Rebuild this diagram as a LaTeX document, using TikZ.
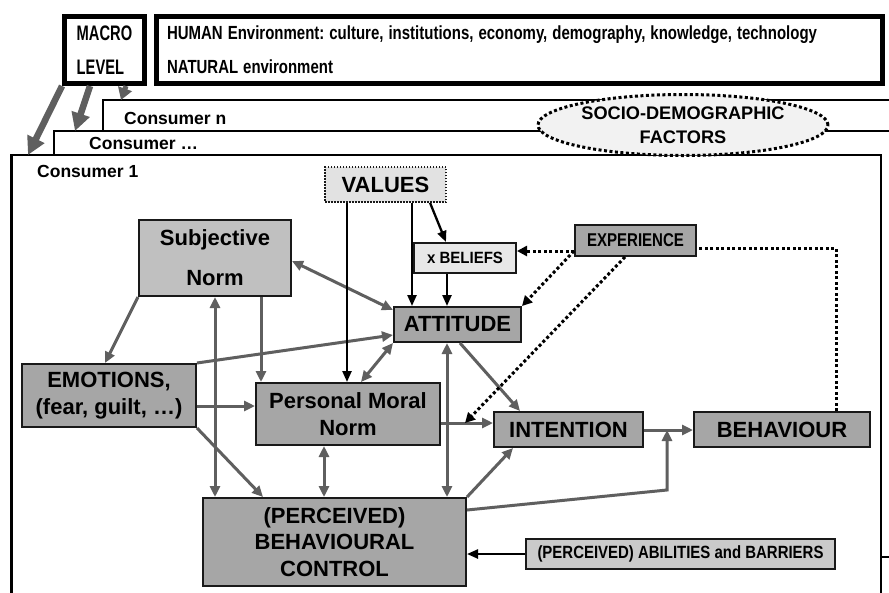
\documentclass[tikz,border=0pt]{standalone}
\usepackage{graphicx}
\usepackage{fontspec}
\setmainfont{Liberation Sans}
\usetikzlibrary{arrows.meta,shapes.geometric,calc}
\frenchspacing
\definecolor{agray}{RGB}{95,95,95}
\definecolor{boxdark}{RGB}{166,166,166}
\definecolor{boxsn}{RGB}{192,192,192}
\definecolor{boxbar}{RGB}{202,202,202}
\definecolor{boxlight}{RGB}{232,232,232}
\definecolor{valfill}{RGB}{226,226,226}
\definecolor{ellfill}{RGB}{242,242,242}
\newcommand{\fitw}[2]{\resizebox{#1}{\height}{#2}}
\begin{document}
\begin{tikzpicture}[x=1pt,y=-1pt,
  box/.style={draw=black!90, line width=2pt, inner sep=0pt, align=center},
  bigfont/.style={font=\bfseries\fontsize{22}{26.5}\selectfont},
  ga/.style={draw=agray, line width=3pt, -{Triangle[length=11pt,width=10pt]}},
  gab/.style={draw=agray, line width=3pt, {Triangle[length=11pt,width=10pt]}-{Triangle[length=11pt,width=10pt]}},
  ba/.style={draw=black, line width=2.3pt, -{Triangle[length=11pt,width=9pt]}},
  dotl/.style={draw=black, line width=3pt, dash pattern=on 3pt off 2.5pt},
  da/.style={dotl, -{Triangle[length=10pt,width=10pt]}},
  bigarrow/.style={draw=agray, line width=6.5pt, -{Triangle[length=18pt,width=18pt]}},
  frame/.style={draw=black, line width=2.5pt, fill=white},
  ctext/.style={font=\bfseries\fontsize{17.5}{20}\selectfont, anchor=west, inner sep=0pt},
]
\useasboundingbox (0,0) rectangle (889,592);
\fill[white] (0,0) rectangle (889,592);
\clip (0,0) rectangle (889,592);

% consumer frames
\draw[frame] (103,100) rectangle (900,557);
\draw[frame] (54,131) rectangle (900,557);
\draw[frame] (11.5,155) rectangle (881,600);

% macro arrows
\coordinate (t1) at (28,155);
\coordinate (t2) at (75,131);
\coordinate (t3) at (121,100);

% macro and human boxes
\node[draw=black, line width=5pt, minimum width=80pt, minimum height=67pt, inner sep=0pt,
  font=\bfseries\fontsize{21}{34.5}\selectfont, align=left] (macro) at (104.5,50)
  {\scalebox{0.7}[1]{MACRO}\\\scalebox{0.7}[1]{LEVEL}};
\node[draw=black, line width=5pt, minimum width=726pt, minimum height=67pt, inner xsep=10.5pt, inner ysep=0pt,
  text width=705pt, align=left, font=\bfseries\fontsize{19}{34}\selectfont] (human) at (519.5,50)
  {\fitw{650pt}{HUMAN Environment: culture, institutions, economy, demography, knowledge, technology}\\\fitw{166pt}{NATURAL environment}};

\draw[bigarrow] (macro.south west) -- (t1);
\draw[bigarrow] (90,0 |- macro.south) -- (t2);
\draw[draw=agray, line width=5pt, -{Triangle[length=12pt,width=14pt]}] (126,0 |- macro.south) -- (t3);

% consumer labels
\node[ctext] (cn) at (124,118) {Consumer n};
\node[ctext] (cd) at (89,143) {Consumer …};
\node[ctext] (c1) at (37,171) {Consumer 1};

% socio-demographic
\node[ellipse, draw=black, line width=3pt, dash pattern=on 3pt off 2.5pt, fill=ellfill,
  minimum width=290pt, minimum height=61pt, inner sep=0pt, align=center,
  font=\bfseries\fontsize{18.2}{24}\selectfont] (socio) at (683,125) {SOCIO-DEMOGRAPHIC\\FACTORS};

% boxes
\node[box, bigfont, fill=valfill, line width=1.5pt, dash pattern=on 1.5pt off 1.5pt,
  minimum width=121pt, minimum height=35pt] (values) at (385.5,184.5) {VALUES};
\node[box, fill=boxlight, minimum width=102pt, minimum height=30pt,
  font=\bfseries\fontsize{16.3}{20}\selectfont] (beliefs) at (465,258) {\fitw{76pt}{x BELIEFS}};
\node[box, bigfont, fill=boxdark, minimum width=127pt, minimum height=35pt] (attitude) at (457.5,324.5) {ATTITUDE};
\node[box, fill=boxsn, minimum width=152pt, minimum height=76pt,
  font=\bfseries\fontsize{22}{40}\selectfont] (sn) at (215,258) {Subjective\\Norm};
\node[box, bigfont, fill=boxdark, minimum width=174pt, minimum height=63pt,
  font=\bfseries\fontsize{22}{27}\selectfont] (emotions) at (109,395.5) {EMOTIONS,\\(fear, guilt, …)};
\node[box, bigfont, fill=boxdark, minimum width=184pt, minimum height=62pt] (pmn) at (348,414) {Personal Moral\\Norm};
\node[box, bigfont, fill=boxdark, minimum width=149pt, minimum height=35pt] (intention) at (568.5,429.5) {INTENTION};
\node[box, bigfont, fill=boxdark, minimum width=176pt, minimum height=35pt] (behaviour) at (782,429.5) {BEHAVIOUR};
\node[box, fill=boxdark, minimum width=121pt, minimum height=31pt,
  font=\bfseries\fontsize{18.5}{22}\selectfont] (experience) at (635.5,240.5) {\fitw{97pt}{EXPERIENCE}};
\node[box, fill=boxbar, minimum width=309pt, minimum height=30pt,
  font=\bfseries\fontsize{17.7}{22}\selectfont] (barriers) at (680.5,554) {\fitw{286pt}{(PERCEIVED) ABILITIES and BARRIERS}};
\node[box, bigfont, fill=boxdark, minimum width=263pt, minimum height=88pt] (pbc) at (334.5,542) {(PERCEIVED)\\BEHAVIOURAL\\CONTROL};

% gray connectors
\draw[gab] (sn.east |- 0,261) -- (attitude.west |- 0,310);
\draw[ga] (sn.south west) -- (105,0 |- emotions.north);
\draw[ga] (261,0 |- sn.south) -- (261,0 |- pmn.north);
\draw[gab] (sn.south |- pbc.north) -- (sn.south);
\draw[ga] (emotions.north east) -- (attitude.west |- 0,335);
\draw[ga] (emotions.east |- 0,406) -- (pmn.west |- 0,406);
\draw[ga] (emotions.south east) -- (263,0 |- pbc.north);
\draw[gab] (361,0 |- pmn.north) -- (attitude.south west);
\draw[gab] (324,0 |- pmn.south) -- (324,0 |- pbc.north);
\draw[gab] (447,0 |- attitude.south) -- (447,0 |- pbc.north);
\draw[ga] (460,0 |- attitude.south) -- (520,0 |- intention.north);
\coordinate (pmnint) at (465,423);
\draw[ga] (pmn.east |- 0,423) -- (intention.west |- 0,423);
\draw[ga] (pbc.north east) -- (513,0 |- intention.south);
\coordinate (junc) at (667,430);
\draw[ga] (pbc.east |- 0,510) -- (667,490) -- (junc);
\draw[ga] (intention.east |- 0,430) -- (behaviour.west |- 0,430);

% black connectors
\draw[ba] (347,0 |- values.south) -- (347,0 |- pmn.north);
\draw[ba] (412,0 |- values.south) -- (412,0 |- attitude.north);
\draw[ba] (430,0 |- values.south) -- (446,0 |- beliefs.north);
\draw[ba] (447,0 |- beliefs.south) -- (447,0 |- attitude.north);
\draw[ba] (barriers.west) -- (pbc.east |- barriers.west);

% dotted connectors
\draw[da] (experience.west |- 0,251) -- (beliefs.east |- 0,251);
\draw[da] (experience.west |- 0,251) -- (attitude.north east);
\draw[da] (625,0 |- experience.south) -- (pmnint);
\draw[dotl] (836,0 |- behaviour.north) -- (836,248) -- (experience.east |- 0,248);
\end{tikzpicture}
\end{document}
